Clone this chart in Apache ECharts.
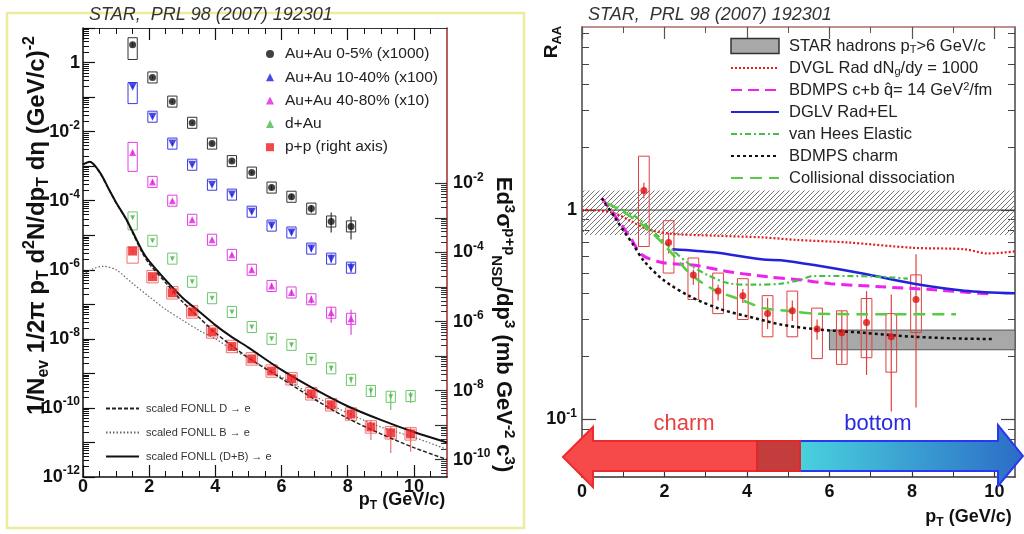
<!DOCTYPE html>
<html><head><meta charset="utf-8">
<script src="https://cdn.jsdelivr.net/npm/echarts@6/dist/echarts.min.js"></script>
<style>html,body{margin:0;padding:0;background:#fff}#c{width:1024px;height:534px}</style>
</head><body><div id="c"></div>
<script>
// ================= LEFT PANEL DATA =================
const ptAA = [1.5,2.1,2.7,3.3,3.9,4.5,5.1,5.7,6.3,6.9,7.5,8.1];
const ptPP = [1.5,2.1,2.7,3.3,3.9,4.5,5.1,5.7,6.3,6.9,7.5,8.1,8.7,9.3,9.9];
const au05  = [3.3,0.37,0.074,0.018,0.0045,1.4e-3,6.5e-4,2.4e-4,1.3e-4,5.9e-5,2.5e-5,1.8e-5];
const au1040 = [0.2,0.027,4.5e-3,1.1e-3,2.9e-4,1.5e-4,4.8e-5,1.9e-5,1.2e-5,4.1e-6,2.1e-6,1.15e-6];
const au4080 = [2.5e-3,3.5e-4,1e-4,2.8e-5,7.4e-6,2.7e-6,1e-6,3.4e-7,2.2e-7,1.4e-7,5.7e-8,3.8e-8];
const dAu = [3.2e-5,6.9e-6,2.1e-6,4.5e-7,1.5e-7,6e-8,2.2e-8,1e-8,6.7e-9,2.6e-9,1.4e-9,6.5e-10,3.1e-10,2.1e-10,2.2e-10];
const pp  = [1.1e-4,2.0e-5,6.8e-6,1.9e-6,5.0e-7,1.9e-7,8.3e-8,3.7e-8,2.2e-8,8.1e-9,3.9e-9,2.1e-9,8.9e-10,6.0e-10,5.6e-10];
// systematic boxes / stat bars (in decades, down / up)
const au05SysDn = [0.43,0.16,0.16,0.16,0.16,0.16,0.16,0.16,0.16,0.16,0.16,0.16];
const au05SysUp = [0.20,0.16,0.16,0.16,0.16,0.16,0.16,0.16,0.16,0.16,0.16,0.16];
const au05StDn  = [0.05,0.03,0.03,0.03,0.03,0.04,0.05,0.06,0.08,0.12,0.32,0.38];
const au05StUp  = [0.05,0.03,0.03,0.03,0.03,0.04,0.05,0.06,0.08,0.10,0.26,0.29];
const au1040SysDn = [0.49,0.16,0.16,0.16,0.16,0.16,0.16,0.16,0.16,0.16,0.16,0.16];
const au1040SysUp = [0.12,0.16,0.16,0.16,0.16,0.16,0.16,0.16,0.16,0.16,0.16,0.16];
const au1040StDn  = [0.04,0.03,0.03,0.03,0.03,0.04,0.05,0.06,0.07,0.09,0.12,0.14];
const au1040StUp  = [0.04,0.03,0.03,0.03,0.03,0.04,0.05,0.06,0.07,0.09,0.12,0.14];
const au4080SysDn = [0.55,0.16,0.16,0.16,0.16,0.16,0.16,0.16,0.16,0.16,0.16,0.16];
const au4080SysUp = [0.29,0.16,0.16,0.16,0.16,0.16,0.16,0.16,0.16,0.16,0.16,0.16];
const au4080StDn  = [0.05,0.06,0.03,0.03,0.03,0.05,0.06,0.08,0.09,0.12,0.29,0.46];
const au4080StUp  = [0.05,0.06,0.03,0.03,0.03,0.05,0.06,0.08,0.09,0.10,0.17,0.26];
const dAuSysDn = [0.35,0.16,0.16,0.16,0.16,0.16,0.16,0.16,0.16,0.16,0.16,0.16,0.16,0.16,0.16];
const dAuSysUp = [0.17,0.16,0.16,0.16,0.16,0.16,0.16,0.16,0.16,0.16,0.16,0.16,0.16,0.16,0.16];
const dAuStDn  = [0.03,0.03,0.03,0.03,0.03,0.03,0.04,0.05,0.06,0.07,0.08,0.10,0.17,0.38,0.20];
const dAuStUp  = [0.03,0.03,0.03,0.03,0.03,0.03,0.04,0.05,0.06,0.07,0.08,0.10,0.12,0.15,0.12];
const ppSysDn = [0.35,0.18,0.18,0.18,0.18,0.18,0.18,0.18,0.18,0.18,0.18,0.18,0.18,0.18,0.18];
const ppSysUp = [0.12,0.18,0.18,0.18,0.18,0.18,0.18,0.18,0.18,0.18,0.18,0.18,0.18,0.18,0.18];
const ppStDn  = [0.04,0.04,0.04,0.04,0.04,0.05,0.05,0.06,0.07,0.08,0.10,0.15,0.38,0.58,0.52];
const ppStUp  = [0.04,0.04,0.04,0.04,0.04,0.05,0.05,0.06,0.07,0.08,0.10,0.13,0.20,0.17,0.20];
// scaled FONLL curves (left axis)
const fonPt  = [0,0.2,0.5,0.8,1.0,1.3,1.5,1.8,2.0,2.5,3.0,3.5,4.0,4.5,5.0,6.0,7.0,8.0,9.0,10.0,11.0];
const fonDB  = [1.12e-3,1.35e-3,6.8e-4,2.0e-4,8.9e-5,3.0e-5,1.26e-5,3.4e-6,1.78e-6,5.0e-7,1.58e-7,6.3e-8,2.5e-8,1.12e-8,5.6e-9,1.26e-9,3.5e-10,1.12e-10,4.5e-11,2.0e-11,1.0e-11];
const fonD   = [1.12e-3,1.35e-3,6.6e-4,1.95e-4,8.7e-5,2.9e-5,1.17e-5,3.0e-6,1.5e-6,4.2e-7,1.2e-7,4.2e-8,1.5e-8,6.3e-9,2.8e-9,7.1e-10,1.78e-10,5.0e-11,1.78e-11,7.1e-12,3.2e-12];
const fonBPt = [0,0.3,0.6,1.0,1.5,2.0,2.5,3.0,3.5,4.0,4.5,5.0,6.0,7.0,8.0,9.0,10.0,11.0];
const fonB   = [7.1e-7,1.07e-6,1.26e-6,1.0e-6,4.0e-7,1.66e-7,7.1e-8,3.5e-8,1.78e-8,1.0e-8,5.0e-9,2.8e-9,7.9e-10,2.2e-10,7.1e-11,2.8e-11,1.41e-11,6.3e-12];

// ================= RIGHT PANEL DATA =================
const raaPt    = [1.5,2.1,2.7,3.3,3.9,4.5,5.1,5.7,6.3,6.9,7.5,8.1];
const raaVal   = [1.24,0.70,0.49,0.41,0.39,0.32,0.33,0.27,0.259,0.29,0.248,0.374];
const raaSysLo = [0.67,0.50,0.374,0.32,0.30,0.248,0.248,0.195,0.183,0.197,0.168,0.26];
const raaSysHi = [1.81,0.89,0.59,0.50,0.47,0.39,0.41,0.34,0.33,0.378,0.32,0.49];
const raaStLo  = [1.14,0.62,0.44,0.37,0.36,0.27,0.295,0.24,0.185,0.163,0.109,0.114];
const raaStHi  = [1.35,0.78,0.52,0.44,0.42,0.38,0.37,0.30,0.33,0.41,0.395,0.615];
const hatchBand = [0.76,1.24];
const hatchPt   = [0,10.5];
const hadronBand = [0.215,0.267];
const hadronPt   = [6.0,10.5];
const unityPt = [0,10.5];
const unityVal = [1,1];
const dvglPt = [0,0.2,0.75,1.17,1.58,2.2,3.2,4.4,5.2,6.45,8.05,9.27,9.85,10.5];
const dvgl   = [1.0,1.0,0.97,0.89,0.81,0.77,0.755,0.74,0.72,0.70,0.66,0.65,0.62,0.635];
const bdmpsCBPt = [0.48,0.92,1.17,1.46,1.97,2.7,3.6,4.5,5.2,6.03,7.25,8.47,9.37,9.95];
const bdmpsCB   = [1.14,0.87,0.74,0.61,0.56,0.546,0.506,0.48,0.466,0.445,0.43,0.417,0.404,0.397];
const dglvPt = [2.19,3.19,4.4,4.82,5.63,6.84,8.05,9.27,10.5];
const dglv   = [0.65,0.628,0.58,0.576,0.546,0.496,0.445,0.412,0.40];
const vanHeesPt = [0.63,1.0,1.34,1.82,2.14,2.63,3.04,3.6,4.17,4.82,5.3,5.6,6.45,7.25,7.9];
const vanHees   = [1.07,1.0,0.92,0.76,0.66,0.546,0.49,0.445,0.44,0.445,0.464,0.484,0.484,0.48,0.47];
const bdmpsCPt = [0.48,0.8,1.0,1.24,1.49,1.97,2.63,3.36,4.0,4.82,5.63,6.84,8.05,9.27,10.0];
const bdmpsC   = [1.14,0.92,0.80,0.685,0.575,0.464,0.386,0.336,0.311,0.284,0.27,0.259,0.248,0.243,0.242];
const collPt = [0.6,1.0,1.5,2.0,2.63,3.19,3.84,4.4,5.13,5.63,6.84,8.05,9.07];
const coll   = [1.08,0.98,0.84,0.68,0.495,0.417,0.374,0.34,0.328,0.32,0.318,0.318,0.318];

// tick positions
const xMajL = [0,2,4,6,8,10];
const xMinL = [0.5,1,1.5,2.5,3,3.5,4.5,5,5.5,6.5,7,7.5,8.5,9,9.5,10.5];
const xMajR = [0,2,4,6,8,10];
const xMinR = [1,3,5,7,9];
const yLabL = [-12,-10,-8,-6,-4,-2,0];
const yLabPP = [-10,-8,-6,-4,-2];
const raaLab = [0.1,1];
const raaMinorVals = [0.06,0.07,0.08,0.09,0.2,0.3,0.4,0.5,0.6,0.7,0.8,0.9,2,3,4,5,6,7];
const logMinorK = [2,3,4,5,6,7,8,9];

// ================= BUILD =================
const L = Math.log10;
const FONT = '"Liberation Sans", Arial, Helvetica, sans-serif';
function decadeTicks(lo, hi){ const a=[]; for(let d=Math.ceil(lo); d<=Math.floor(hi); d++) a.push(d); return a; }
function minorTicks(lo, hi){ const a=[]; for(let d=Math.floor(lo)-1; d<=Math.ceil(hi); d++) logMinorK.forEach(k=>{const v=d+L(k); if(v>lo && v<hi) a.push(v);}); return a; }
const pts = (xs, ys) => xs.map((x,i)=>[x, L(ys[i])]);
const boxesDec = (xs, ys, sd, su, ed, eu) => xs.map((x,i)=>{const l=L(ys[i]); return [x,l,l-sd[i],l+su[i],l-ed[i],l+eu[i]];});
const boxesVal = (xs, ys, lo, hi, slo, shi) => xs.map((x,i)=>[x,L(ys[i]),L(lo[i]),L(hi[i]),L(slo[i]),L(shi[i])]);

function boxRender(color, hw, lw){
  return function(params, api){
    const x = api.value(0);
    const a = api.coord([x-hw, api.value(3)]);
    const b = api.coord([x+hw, api.value(2)]);
    const s0 = api.coord([x, api.value(5)]);
    const s1 = api.coord([x, api.value(4)]);
    return {type:'group', children:[
      {type:'rect', shape:{x:a[0], y:a[1], width:b[0]-a[0], height:b[1]-a[1]}, style:{fill:null, stroke:color, lineWidth:lw}},
      {type:'line', shape:{x1:s0[0], y1:s0[1], x2:s1[0], y2:s1[1]}, style:{stroke:color, lineWidth:1.2}}
    ]};
  };
}
function boxSeries(name, xi, yi, data, color, hw, lw){
  return {type:'custom', name:name, xAxisIndex:xi, yAxisIndex:yi, data:data, silent:true, z:3,
    encode:{x:0, y:[1,2,3]}, renderItem: boxRender(color, hw, lw)};
}

const numRich = {
  b:{fontFamily:FONT, fontWeight:'bold', fontSize:18, color:'#111', lineHeight:24},
  s:{fontFamily:FONT, fontWeight:'bold', fontSize:12, color:'#111', lineHeight:13, verticalAlign:'top'}
};
const logFmt = v => Math.abs(v) < 1e-9 ? '{b|1}' : '{b|10}{s|' + Math.round(v) + '}';
const titleRich = (fs) => ({
  sub:{fontFamily:FONT, fontWeight:'bold', fontSize:fs, color:'#111', lineHeight:fs, verticalAlign:'bottom'},
  sup:{fontFamily:FONT, fontWeight:'bold', fontSize:fs, color:'#111', lineHeight:fs, verticalAlign:'top'}
});
const nameStyle = (extra) => Object.assign({fontFamily:FONT, fontWeight:'bold', fontSize:22, color:'#111', lineHeight:28, rich:titleRich(15)}, extra);

function axis(o){
  return Object.assign({type:'value', nameMoveOverlap:false, splitLine:{show:false}, axisLabel:{show:false}, axisTick:{show:false}, axisLine:{show:false, onZero:false}}, o);
}
const blackLine = (c,w) => ({show:true, onZero:false, lineStyle:{color:c||'#111', width:w||1.5}});

// pattern for hatch
const pat = document.createElement('canvas'); pat.width = 5; pat.height = 5;
(function(){ const g = pat.getContext('2d'); g.strokeStyle = '#777'; g.lineWidth = 1;
  g.beginPath(); g.moveTo(-1,6); g.lineTo(6,-1); g.stroke(); })();

const yMinL = -12, yMaxL = 1, yMinPP = -10.5, yMaxPP = 2.5;
const yMinR = L(0.053), yMaxR = L(7.5);

const xAxes = [
  axis({gridIndex:0, min:0, max:11, position:'bottom', axisLine:blackLine('#111',1.5),
    axisTick:{show:true, inside:true, length:12, customValues:xMajL, lineStyle:{color:'#111', width:1.2}},
    axisLabel:{show:true, customValues:xMajL, margin:1, fontFamily:FONT, fontWeight:'bold', fontSize:18, color:'#111'},
    name:'p{sub|T} (GeV/c)', nameLocation:'middle', nameGap:11,
    nameTextStyle: nameStyle({fontSize:18, lineHeight:24, rich:titleRich(12), padding:[0,0,0,274]})}),
  axis({gridIndex:0, min:0, max:11, position:'bottom', axisTick:{show:true, inside:true, length:6, customValues:xMinL, lineStyle:{color:'#111', width:1}}}),
  axis({gridIndex:0, min:0, max:11, position:'top', axisLine:blackLine('#333',1),
    axisTick:{show:true, inside:true, length:12, customValues:xMajL, lineStyle:{color:'#111', width:1.2}}}),
  axis({gridIndex:0, min:0, max:11, position:'top', axisTick:{show:true, inside:true, length:6, customValues:xMinL, lineStyle:{color:'#111', width:1}}}),
  axis({gridIndex:1, min:0, max:10.5, position:'bottom', axisLine:blackLine('#333',1.5),
    axisTick:{show:true, inside:true, length:12, customValues:xMajR, lineStyle:{color:'#333', width:1.2}},
    axisLabel:{show:true, customValues:xMajR, margin:6, fontFamily:FONT, fontWeight:'bold', fontSize:18, color:'#111'},
    name:'p{sub|T} (GeV/c)', nameLocation:'middle', nameGap:28,
    nameTextStyle: nameStyle({fontSize:18, lineHeight:24, rich:titleRich(12), padding:[0,0,0,340]})}),
  axis({gridIndex:1, min:0, max:10.5, position:'bottom', axisTick:{show:true, inside:true, length:6, customValues:xMinR, lineStyle:{color:'#333', width:1}}}),
  axis({gridIndex:1, min:0, max:10.5, position:'top', axisLine:blackLine('#b06a6a',1.5),
    axisTick:{show:true, inside:true, length:12, customValues:xMajR, lineStyle:{color:'#555', width:1.2}}}),
  axis({gridIndex:1, min:0, max:10.5, position:'top', axisTick:{show:true, inside:true, length:6, customValues:xMinR, lineStyle:{color:'#555', width:1}}})
];

const yAxes = [
  axis({gridIndex:0, min:yMinL, max:yMaxL, position:'left', axisLine:blackLine('#111',1.5),
    axisTick:{show:true, inside:true, length:12, customValues:decadeTicks(yMinL,yMaxL), lineStyle:{color:'#111', width:1.2}},
    axisLabel:{show:true, customValues:yLabL, margin:3, formatter:logFmt, rich:numRich},
    name:'1/N{sub|ev} 1/2\u03c0 p{sub|T} d{sup|2}N/dp{sub|T} d\u03b7 (GeV/c){sup|-2}', nameLocation:'middle', nameGap:31,
    nameTextStyle: nameStyle({fontSize:24, lineHeight:30, rich:titleRich(16), padding:[0,0,0,54]})}),
  axis({gridIndex:0, min:yMinL, max:yMaxL, position:'left',
    axisTick:{show:true, inside:true, length:6, customValues:minorTicks(yMinL,yMaxL), lineStyle:{color:'#111', width:1}}}),
  axis({gridIndex:0, min:yMinPP, max:yMaxPP, position:'right', axisLine:blackLine('#a02828',1.5),
    axisTick:{show:true, inside:true, length:12, customValues:decadeTicks(yMinPP,-2), lineStyle:{color:'#333', width:1.2}},
    axisLabel:{show:true, customValues:yLabPP, margin:6, formatter:logFmt, rich:numRich},
    name:'Ed{sup|3}\u03c3{sup|p+p}{sub|NSD}/dp{sup|3} (mb GeV{sup|-2} c{sup|3})', nameLocation:'middle', nameGap:42, nameRotate:-90,
    nameTextStyle: nameStyle({padding:[0,0,0,144]})}),
  axis({gridIndex:0, min:yMinPP, max:yMaxPP, position:'right',
    axisTick:{show:true, inside:true, length:6, customValues:minorTicks(yMinPP,-2), lineStyle:{color:'#333', width:1}}}),
  axis({gridIndex:1, min:yMinR, max:yMaxR, position:'left', axisLine:blackLine('#444',1.5),
    axisTick:{show:true, inside:true, length:14, customValues:raaLab.map(L), lineStyle:{color:'#444', width:1.2}},
    axisLabel:{show:true, customValues:raaLab.map(L), margin:5, formatter:logFmt, rich:numRich},
    name:'R{sub|AA}', nameLocation:'middle', nameGap:18,
    nameTextStyle: nameStyle({fontSize:19, lineHeight:24, rich:titleRich(13), padding:[0,0,0,420]})}),
  axis({gridIndex:1, min:yMinR, max:yMaxR, position:'left',
    axisTick:{show:true, inside:true, length:7, customValues:raaMinorVals.map(L), lineStyle:{color:'#444', width:1}}}),
  axis({gridIndex:1, min:yMinR, max:yMaxR, position:'right', axisLine:blackLine('#444',1.5),
    axisTick:{show:true, inside:true, length:14, customValues:raaLab.map(L), lineStyle:{color:'#444', width:1.2}}}),
  axis({gridIndex:1, min:yMinR, max:yMaxR, position:'right',
    axisTick:{show:true, inside:true, length:7, customValues:raaMinorVals.map(L), lineStyle:{color:'#444', width:1}}})
];

const nHad = 'STAR hadrons pT>6 GeV/c', nDVGL = 'DVGL Rad dNg/dy = 1000', nBCB = 'BDMPS c+b qhat= 14 GeV2/fm',
      nDGLV = 'DGLV Rad+EL', nVH = 'van Hees Elastic', nBC = 'BDMPS charm', nColl = 'Collisional dissociation';
const legendRich = {};
legendRich[nHad] = 'STAR hadrons p{sub|T}>6 GeV/c';
legendRich[nDVGL] = 'DVGL Rad dN{sub|g}/dy = 1000';
legendRich[nBCB] = 'BDMPS c+b q\u0302= 14 GeV{sup|2}/fm';
const nA = 'Au+Au 0-5% (x1000)', nB = 'Au+Au 10-40% (x100)', nC = 'Au+Au 40-80% (x10)', nDA = 'd+Au', nPP = 'p+p (right axis)';
const nFD = 'scaled FONLL D \u2192 e', nFB = 'scaled FONLL B \u2192 e', nFDB = 'scaled FONLL (D+B) \u2192 e';

const line = (name, xi, yi, xs, ys, color, width, type, z) => ({type:'line', name:name, xAxisIndex:xi, yAxisIndex:yi,
  data:pts(xs, ys), symbol:'none', smooth:0.3, silent:true, z:z||4, lineStyle:{color:color, width:width, type:type}, itemStyle:{color:color}});
const scat = (name, xi, yi, xs, ys, sym, size, color, rot) => ({type:'scatter', name:name, xAxisIndex:xi, yAxisIndex:yi,
  data:pts(xs, ys), symbol:sym, symbolSize:size, symbolRotate:rot||0, silent:true, z:6, itemStyle:{color:color}});

const series = [
  // left panel
  line(nFD, 0, 0, fonPt, fonD, '#222', 1.5, [4,2], 3),
  line(nFB, 0, 0, fonBPt, fonB, '#666', 1.2, [1.5,2], 3),
  line(nFDB, 0, 0, fonPt, fonDB, '#111', 2, 'solid', 3),
  boxSeries('bA', 0, 0, boxesDec(ptAA, au05, au05SysDn, au05SysUp, au05StDn, au05StUp), '#333', 0.14, 1),
  boxSeries('bB', 0, 0, boxesDec(ptAA, au1040, au1040SysDn, au1040SysUp, au1040StDn, au1040StUp), '#3a3ae0', 0.14, 1),
  boxSeries('bC', 0, 0, boxesDec(ptAA, au4080, au4080SysDn, au4080SysUp, au4080StDn, au4080StUp), '#e040e0', 0.14, 1),
  boxSeries('bD', 0, 0, boxesDec(ptPP, dAu, dAuSysDn, dAuSysUp, dAuStDn, dAuStUp), '#6cc66c', 0.14, 1),
  boxSeries('bP', 0, 2, boxesDec(ptPP, pp, ppSysDn, ppSysUp, ppStDn, ppStUp), '#f07070', 0.17, 1),
  scat(nA, 0, 0, ptAA, au05, 'circle', 7, '#111'),
  scat(nB, 0, 0, ptAA, au1040, 'triangle', 8, '#1c1ce0', 180),
  scat(nC, 0, 0, ptAA, au4080, 'triangle', 7, '#e020e0'),
  scat(nDA, 0, 0, ptPP, dAu, 'triangle', 5, '#50b850', 180),
  scat(nPP, 0, 2, ptPP, pp, 'rect', 9, '#ee1c1c'),
  // right panel
  {type:'custom', name:'hatch', xAxisIndex:4, yAxisIndex:4, silent:true, z:1,
    data:[[hatchPt[0], L(hatchBand[0]), L(hatchBand[1]), hatchPt[1]]], encode:{x:[0,3], y:[1,2]},
    renderItem:(p, api) => { const a = api.coord([api.value(0), api.value(2)]); const b = api.coord([api.value(3), api.value(1)]);
      return {type:'rect', shape:{x:a[0], y:a[1], width:b[0]-a[0], height:b[1]-a[1]}, style:{fill:{image:pat, repeat:'repeat'}}}; }},
  {type:'custom', name:nHad, xAxisIndex:4, yAxisIndex:4, silent:true, z:2,
    itemStyle:{color:'#a8a8a8', borderColor:'#333', borderWidth:1},
    data:[[hadronPt[0], L(hadronBand[0]), L(hadronBand[1]), hadronPt[1]]], encode:{x:[0,3], y:[1,2]},
    renderItem:(p, api) => { const a = api.coord([api.value(0), api.value(2)]); const b = api.coord([api.value(3), api.value(1)]);
      return {type:'rect', shape:{x:a[0], y:a[1], width:b[0]-a[0], height:b[1]-a[1]}, style:{fill:'#a8a8a8', stroke:'#555', lineWidth:1}}; }},
  line('unity', 4, 4, unityPt, unityVal, '#333', 1, 'solid', 2),
  line(nDVGL, 4, 4, dvglPt, dvgl, '#e02020', 2.2, [2,2]),
  line(nBCB, 4, 4, bdmpsCBPt, bdmpsCB, '#ee22ee', 3, [11,6]),
  line(nDGLV, 4, 4, dglvPt, dglv, '#2222dd', 2.5, 'solid'),
  line(nVH, 4, 4, vanHeesPt, vanHees, '#44c044', 2.2, [6,3,2,3]),
  line(nBC, 4, 4, bdmpsCPt, bdmpsC, '#111', 2.5, [3,3]),
  line(nColl, 4, 4, collPt, coll, '#55cc44', 2.5, [12,7]),
  boxSeries('bR', 4, 4, boxesVal(raaPt, raaVal, raaSysLo, raaSysHi, raaStLo, raaStHi), '#e04040', 0.13, 1),
  scat('raa', 4, 4, raaPt, raaVal, 'circle', 7, '#e01010')
];

const chart = echarts.init(document.getElementById('c'), null, {renderer:'canvas'});
chart.setOption({
  animation:false,
  backgroundColor:'#fff',
  title:[
    {text:'STAR,  PRL 98 (2007) 192301', left:84, top:1, textStyle:{fontFamily:FONT, fontStyle:'italic', fontWeight:'normal', fontSize:18, color:'#333'}},
    {text:'STAR,  PRL 98 (2007) 192301', left:583, top:1, textStyle:{fontFamily:FONT, fontStyle:'italic', fontWeight:'normal', fontSize:18, color:'#333'}}
  ],
  grid:[
    {left:83, top:28, width:364, height:449},
    {left:582, top:27, width:433, height:456}
  ],
  xAxis:xAxes,
  yAxis:yAxes,
  legend:[
    {orient:'vertical', left:261, top:41, itemWidth:8, itemHeight:8, itemGap:7.3, selectedMode:false,
      textStyle:{fontFamily:FONT, fontSize:15.5, color:'#222', lineHeight:15, padding:[0,0,0,6]},
      data:[nA, nB, nC, nDA, nPP]},
    {orient:'vertical', left:100, top:397, itemWidth:33, itemHeight:10, itemGap:11, selectedMode:false,
      itemStyle:{opacity:0},
      textStyle:{fontFamily:FONT, fontSize:11, color:'#333', lineHeight:13, padding:[0,0,0,2]},
      data:[nFD, nFB, nFDB]},
    {orient:'vertical', left:725, top:32, itemWidth:48, itemHeight:15, itemGap:4, selectedMode:false,
      itemStyle:{opacity:0},
      formatter: n => legendRich[n] || n,
      textStyle:{fontFamily:FONT, fontSize:16.5, color:'#222', lineHeight:18, padding:[0,0,0,5],
        rich:{sub:{fontFamily:FONT, fontSize:11, color:'#222', lineHeight:10, verticalAlign:'bottom'},
              sup:{fontFamily:FONT, fontSize:11, color:'#222', lineHeight:10, verticalAlign:'top'}}},
      data:[{name:nHad, icon:'rect', itemStyle:{color:'#a8a8a8', borderColor:'#333', borderWidth:1.5, opacity:1}}, nDVGL, nBCB, nDGLV, nVH, nBC, nColl]}
  ],
  graphic:[
    {type:'rect', z:-10, shape:{x:7, y:13, width:517, height:515}, style:{fill:null, stroke:'#ecec9c', lineWidth:2.5}},
    {type:'polygon', z:50, shape:{points:[[757,441],[998,441],[998,425],[1023,456],[998,486],[998,471],[757,471]]},
      style:{fill:{type:'linear', x:0, y:0, x2:1, y2:0, colorStops:[{offset:0, color:'#4ee6e2'},{offset:1, color:'#2c6cc6'}]}, stroke:'#2a36f0', lineWidth:2}},
    {type:'polygon', z:51, shape:{points:[[563,457],[593,427],[593,441],[800,441],[800,471],[593,471],[593,487]]},
      style:{fill:'#f64a4a', stroke:'#ee2a2a', lineWidth:2}},
    {type:'rect', z:52, shape:{x:757, y:441, width:43, height:30}, style:{fill:'#c23d3b', stroke:'#e02828', lineWidth:2}},
    {type:'text', z:53, x:684, y:424, style:{text:'charm', fill:'#e84040', font:'22px ' + FONT, textAlign:'center', textVerticalAlign:'middle'}},
    {type:'text', z:53, x:878, y:424, style:{text:'bottom', fill:'#2a2ae0', font:'22px ' + FONT, textAlign:'center', textVerticalAlign:'middle'}}
  ],
  series:series
});
</script>
</body></html>
